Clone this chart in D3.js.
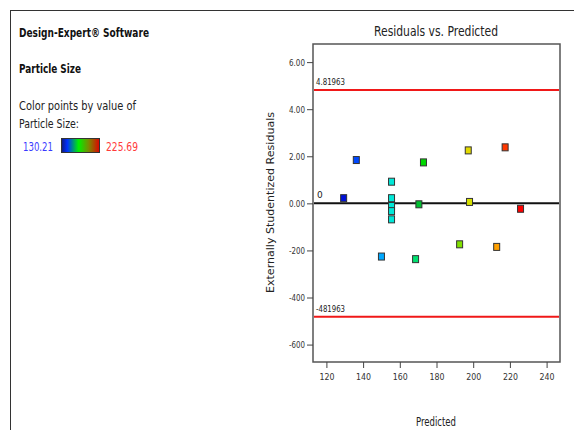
<!DOCTYPE html>
<html>
<head>
<meta charset="utf-8">
<script src="https://cdn.jsdelivr.net/npm/d3@7"></script>
<style>
  body { margin: 0; background: #fff; }
  text { font-family: "DejaVu Sans", sans-serif; }
</style>
</head>
<body>
<div id="chart"></div>
<script>

// predicted value, externally studentized residual, actual particle size (for colour)
const predicted = [129.4, 136.3, 150.0, 155.5, 155.5, 155.5, 155.5, 155.5, 168.6, 170.4, 172.9, 192.6, 197.3, 198.0, 212.8, 217.4, 225.8];
const residuals = [0.22, 1.84, -2.26, 0.92, 0.22, -0.11, -0.33, -0.68, -2.37, -0.04, 1.74, -1.74, 2.25, 0.06, -1.85, 2.38, -0.23];
const actual    = [130.21, 140, 150, 156, 156, 156, 156, 156, 165, 170, 176, 190, 200, 198, 210, 220, 225.69];

const xTicks = [120, 140, 160, 180, 200, 220, 240];
const yTicks = [-6, -4, -2, 0, 2, 4, 6];
const yTickLabels = ["-600", "-400", "-200", "0.00", "2.00", "4.00", "6.00"];
const limit = 4.81963;
const limitLabels = ["4.81963", "-481963"];
const colorMin = 130.21, colorMax = 225.69;

const width = 574, height = 430;
const margin = {left: 313, right: 14, top: 44, bottom: 68};

// squeeze text to a measured width (the original uses a narrow font)
function fit(sel, len){
    sel.attr("textLength", len).attr("lengthAdjust", "spacingAndGlyphs");
}

let svg = d3.select("#chart").append("svg")
            .attr("width", width)
            .attr("height", height);

// outer frame
svg.append("rect")
    .attr("x", 10.5).attr("y", 10.5)
    .attr("width", 700).attr("height", 600)
    .attr("fill", "none").attr("stroke", "#333").attr("stroke-width", 1);

//#region Side text
svg.append("text").attr("x", 19).attr("y", 37)
    .attr("font-size", 12).attr("font-weight", "bold").attr("fill", "#111")
    .text("Design-Expert® Software").call(fit, 130);
svg.append("text").attr("x", 19).attr("y", 73)
    .attr("font-size", 12).attr("font-weight", "bold").attr("fill", "#111")
    .text("Particle Size").call(fit, 62);
svg.append("text").attr("x", 19).attr("y", 110)
    .attr("font-size", 12).attr("fill", "#222")
    .text("Color points by value of").call(fit, 117);
svg.append("text").attr("x", 19).attr("y", 128)
    .attr("font-size", 12).attr("fill", "#222")
    .text("Particle Size:").call(fit, 60);

let grad = svg.append("defs").append("linearGradient").attr("id", "legendgrad");
[["0%", "#101a78"], ["15%", "#0030ff"], ["45%", "#00f000"], ["72%", "#7a8a00"], ["100%", "#e00000"]]
    .forEach(s => grad.append("stop").attr("offset", s[0]).attr("stop-color", s[1]));

svg.append("text").attr("x", 23).attr("y", 151)
    .attr("font-size", 12).attr("fill", "#3a3aff").text(colorMin.toFixed(2)).call(fit, 30);
svg.append("rect").attr("x", 61.5).attr("y", 138.5).attr("width", 38).attr("height", 14)
    .attr("fill", "url(#legendgrad)").attr("stroke", "#333");
svg.append("text").attr("x", 106).attr("y", 151)
    .attr("font-size", 12).attr("fill", "#ff3a3a").text(colorMax.toFixed(2)).call(fit, 32);
//#endregion

//#region Scales
let xScale = d3.scaleLinear()
                .domain([112.7, 247.3])
                .range([margin.left, width - margin.right]);

let yScale = d3.scaleLinear()
                .domain([-6.74, 6.77])
                .range([height - margin.bottom, margin.top]);

let colorScale = d3.scaleLinear()
                .domain([130.21, 140, 150, 156, 165, 170, 176, 190, 199, 210, 220, 225.69])
                .range(["#0010d8", "#0048ff", "#00a8ff", "#00e8d8", "#00e070", "#00c030",
                        "#00d800", "#80e000", "#e0e000", "#ffa000", "#ff3800", "#ff0000"]);
//#endregion

// plot frame
svg.append("rect")
    .attr("x", margin.left).attr("y", margin.top)
    .attr("width", width - margin.right - margin.left)
    .attr("height", height - margin.bottom - margin.top)
    .attr("fill", "none").attr("stroke", "#555").attr("stroke-width", 1.5);

//#region Axes
let xAxis = d3.axisBottom(xScale).tickValues(xTicks).tickSize(6).tickPadding(6);
let gx = svg.append("g").attr("transform", "translate(0," + (height - margin.bottom) + ")").call(xAxis);
gx.select(".domain").remove();
gx.selectAll("line").attr("stroke", "#444");
gx.selectAll("text").attr("font-size", 9).attr("fill", "#333").attr("font-family", "DejaVu Sans")
    .call(fit, 15);

let yAxis = d3.axisLeft(yScale).tickValues(yTicks)
                .tickFormat((d, i) => yTickLabels[i]).tickSize(6).tickPadding(2);
let gy = svg.append("g").attr("transform", "translate(" + margin.left + ",0)").call(yAxis);
gy.select(".domain").remove();
gy.selectAll("line").attr("stroke", "#444");
gy.selectAll("text").attr("font-size", 9).attr("fill", "#333").attr("font-family", "DejaVu Sans")
    .call(fit, 16);
//#endregion

//#region Reference lines
svg.selectAll("line.limit")
    .data([limit, -limit])
    .join("line")
    .attr("class", "limit")
    .attr("x1", margin.left + 1).attr("x2", width - margin.right - 1)
    .attr("y1", d => yScale(d)).attr("y2", d => yScale(d))
    .attr("stroke", "#f01818").attr("stroke-width", 2);

svg.selectAll("text.limit")
    .data([limit, -limit])
    .join("text")
    .attr("class", "limit")
    .attr("x", margin.left + 3)
    .attr("y", d => yScale(d) - 5)
    .attr("font-size", 9).attr("fill", "#222")
    .text((d, i) => limitLabels[i])
    .call(fit, 29);

svg.append("line")
    .attr("x1", margin.left + 1).attr("x2", width - margin.right - 1)
    .attr("y1", yScale(0)).attr("y2", yScale(0))
    .attr("stroke", "#111").attr("stroke-width", 2);
svg.append("text").attr("x", margin.left + 4).attr("y", yScale(0) - 5)
    .attr("font-size", 9).attr("fill", "#222").text("0");
//#endregion

//#region Points
const pw = 6, ph = 7;
svg.selectAll("rect.pt")
    .data(predicted.map((p, i) => ({p: p, r: residuals[i], a: actual[i]})))
    .join("rect")
    .attr("class", "pt")
    .attr("x", d => xScale(d.p) - pw / 2)
    .attr("y", d => yScale(d.r) - ph / 2)
    .attr("width", pw).attr("height", ph)
    .attr("fill", d => colorScale(d.a))
    .attr("stroke", "#333").attr("stroke-width", 1);
//#endregion

//#region Titles
svg.append("text").attr("x", 374).attr("y", 36)
    .attr("font-size", 14).attr("fill", "#222").text("Residuals vs. Predicted").call(fit, 124);
svg.append("text").attr("x", 416).attr("y", 426)
    .attr("font-size", 13).attr("fill", "#222").text("Predicted").call(fit, 40);
svg.append("text")
    .attr("transform", "translate(274,293) rotate(-90)")
    .attr("font-size", 11).attr("fill", "#222")
    .text("Externally Studentized Residuals").call(fit, 181);
//#endregion

</script>
</body>
</html>
